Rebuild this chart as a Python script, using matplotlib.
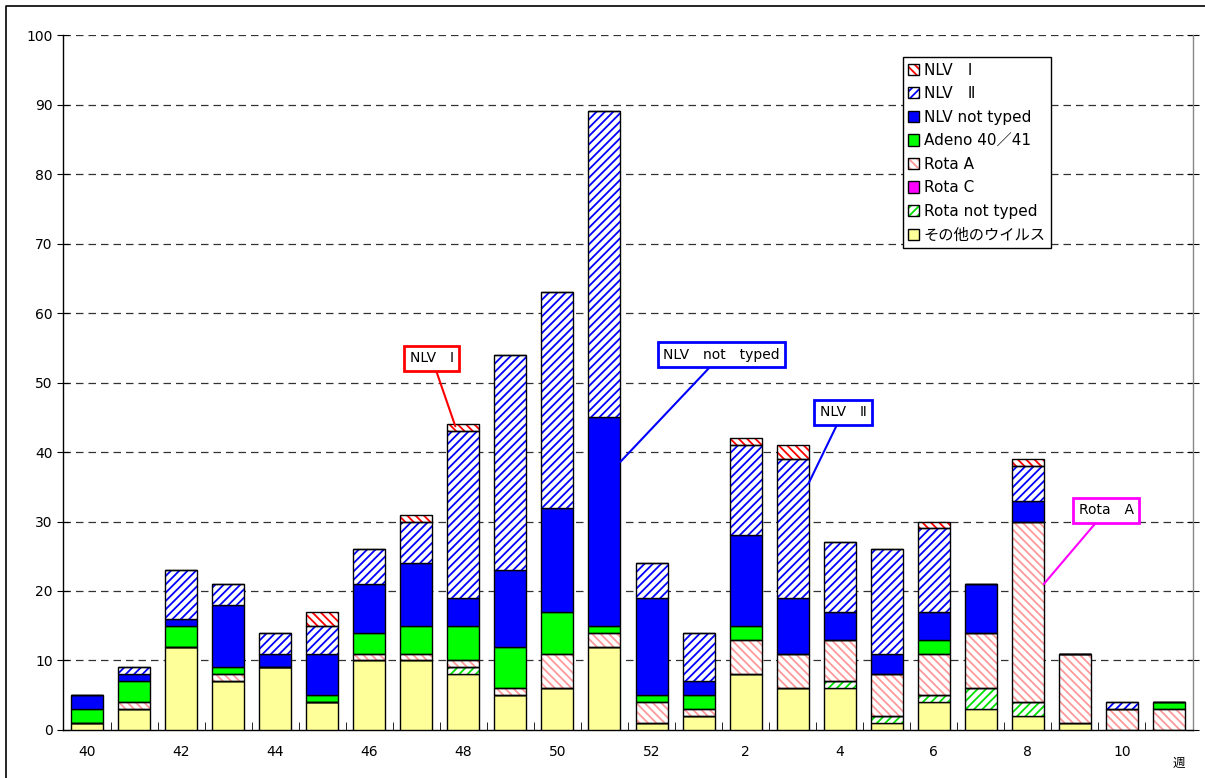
import numpy as np
import matplotlib
matplotlib.use("Agg")
import matplotlib.pyplot as plt
from matplotlib.patches import Patch
from matplotlib.lines import Line2D
from matplotlib.legend_handler import HandlerTuple

plt.rcParams['font.family'] = ['DejaVu Sans', 'Noto Sans CJK JP']
plt.rcParams['hatch.linewidth'] = 1.3

# week numbers (40..52, then 1..11)
weeks = [40, 41, 42, 43, 44, 45, 46, 47, 48, 49, 50, 51, 52,
         1, 2, 3, 4, 5, 6, 7, 8, 9, 10, 11]

# series, bottom to top
other      = [1, 3, 12, 7, 9, 4, 10, 10, 8, 5, 6, 12, 1, 2, 8, 6, 6, 1, 4, 3, 2, 1, 0, 0]
rota_nt    = [0, 0, 0, 0, 0, 0, 0, 0, 1, 0, 0, 0, 0, 0, 0, 0, 1, 1, 1, 3, 2, 0, 0, 0]
rota_c     = [0] * 24
rota_a     = [0, 1, 0, 1, 0, 0, 1, 1, 1, 1, 5, 2, 3, 1, 5, 5, 6, 6, 6, 8, 26, 10, 3, 3]
adeno      = [2, 3, 3, 1, 0, 1, 3, 4, 5, 6, 6, 1, 1, 2, 2, 0, 0, 0, 2, 0, 0, 0, 0, 1]
nlv_nt     = [2, 1, 1, 9, 2, 6, 7, 9, 4, 11, 15, 30, 14, 2, 13, 8, 4, 3, 4, 7, 3, 0, 0, 0]
nlv_2      = [0, 1, 7, 3, 3, 4, 5, 6, 24, 31, 31, 44, 5, 7, 13, 20, 10, 15, 12, 0, 5, 0, 1, 0]
nlv_1      = [0, 0, 0, 0, 0, 2, 0, 1, 1, 0, 0, 0, 0, 0, 1, 2, 0, 0, 1, 0, 1, 0, 0, 0]

series = [
    ("その他のウイルス", other, '#ffff99', None, None),
    ("Rota not typed", rota_nt, 'white', '#00e000', '////'),
    ("Rota C", rota_c, '#ff00ff', None, None),
    ("Rota A", rota_a, 'white', '#ff9999', '\\\\\\\\'),
    ("Adeno 40／41", adeno, '#00ff00', None, None),
    ("NLV not typed", nlv_nt, '#0000ff', None, None),
    ("NLV　Ⅱ", nlv_2, 'white', '#0000ff', '////'),
    ("NLV　Ⅰ", nlv_1, 'white', '#ff0000', '\\\\\\\\'),
]

fig = plt.figure(figsize=(12.05, 7.78), dpi=100)
# outer chart frame (only top/left visible in the reference)
fig.lines.append(Line2D([0.0048, 0.0048, 1.0], [0.0, 0.9925, 0.9925],
                        transform=fig.transFigure, color='black', linewidth=1.2))
ax = fig.add_axes([0.0523, 0.0617, 0.9377, 0.8933])

x = np.arange(len(weeks))
width = 0.68
bottom = np.zeros(len(weeks))
handles = []
for label, vals, fc, hc, hatch in series:
    vals = np.array(vals, dtype=float)
    if hatch:
        ax.bar(x, vals, width, bottom=bottom, facecolor=fc, edgecolor=hc,
               hatch=hatch, linewidth=0, zorder=3)
        ax.bar(x, vals, width, bottom=bottom, facecolor='none',
               edgecolor='black', linewidth=1.0, zorder=4)
        h = (Patch(facecolor=fc, edgecolor=hc, hatch=hatch, linewidth=0),
             Patch(facecolor='none', edgecolor='black', linewidth=1.0))
    else:
        ax.bar(x, vals, width, bottom=bottom, facecolor=fc,
               edgecolor='black', linewidth=1.0, zorder=3)
        h = Patch(facecolor=fc, edgecolor='black', linewidth=1.0)
    handles.append((h, label))
    bottom += vals

ax.set_xlim(-0.51, len(weeks) - 0.49)
ax.set_ylim(0, 100)
ax.set_yticks(range(0, 101, 10))
ax.tick_params(axis='y', labelsize=10, direction='inout', length=8, right=True)
for side in ['right', 'left', 'bottom']:
    ax.spines[side].set_linewidth(1.0)
ax.spines['right'].set_color('#888888')
ax.spines['top'].set_visible(False)

for yv in range(10, 101, 10):
    ax.axhline(yv, color='#333333', linestyle=(0, (6, 4)), linewidth=0.9, zorder=1)

# x ticks: minor ticks between bars, labels every other week
ax.set_xticks(x[::2])
ax.set_xticklabels([str(w) for w in weeks[::2]], fontsize=10)
ax.tick_params(axis='x', length=0, pad=11)
ax.set_xticks(x[:-1] + 0.5, minor=True)
ax.tick_params(axis='x', which='minor', direction='in', length=6)
ax.text(0.993, -0.038, '週', transform=ax.transAxes, fontsize=9,
        ha='right', va='top')

lh, ll = zip(*handles[::-1])
leg = ax.legend(lh, ll, loc='upper left', bbox_to_anchor=(0.743, 0.968),
                fontsize=11, frameon=True, fancybox=False, framealpha=1,
                edgecolor='black', handlelength=0.75, handleheight=0.75,
                handletextpad=0.3, labelspacing=0.56, borderpad=0.35,
                borderaxespad=0,
                handler_map={tuple: HandlerTuple(ndivide=1, pad=0)})
leg.get_frame().set_linewidth(1.0)
leg.set_zorder(10)

# callouts
callouts = [
    ("NLV　Ⅰ", 'red', (7.83, 43.7), (7.33, 53.5)),
    ("NLV　not　typed", 'blue', (11.34, 38.6), (13.49, 54)),
    ("NLV　Ⅱ", 'blue', (15.34, 35.5), (16.07, 45.7)),
    ("Rota　A", '#ff00ff', (20.34, 21.0), (21.67, 31.6)),
]
for txt, col, xy, xytext in callouts:
    ax.annotate(txt, xy=xy, xytext=xytext, fontsize=10, ha='center', va='center',
                bbox=dict(boxstyle='square,pad=0.4', facecolor='white',
                          edgecolor=col, linewidth=2),
                arrowprops=dict(arrowstyle='-', color=col, linewidth=1.5,
                                shrinkA=0, shrinkB=0),
                zorder=6)

fig.savefig('out.png', dpi=100)
